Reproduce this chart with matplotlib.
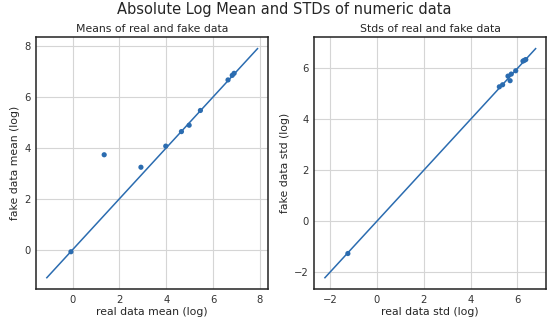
# log means / stds of real vs fake numeric columns

import numpy as np
import matplotlib.pyplot as plt

real_mean = [-0.07, 1.35, 2.92, 3.98, 4.65, 4.98, 5.46, 6.64, 6.82, 6.90]
fake_mean = [-0.08, 3.73, 3.24, 4.07, 4.64, 4.89, 5.47, 6.67, 6.85, 6.93]
mean_line = [-1.1, 7.9]

real_std = [-1.24, 5.23, 5.37, 5.60, 5.74, 5.69, 5.93, 6.24, 6.36, 6.30]
fake_std = [-1.27, 5.28, 5.36, 5.70, 5.78, 5.52, 5.91, 6.29, 6.35, 6.32]
std_line = [-2.22, 6.78]

col = '#2b6cb0'

plt.rcParams['font.family'] = 'DejaVu Sans'
fig, axs = plt.subplots(1, 2, figsize=(5.5, 3.26), dpi=100)
fig.subplots_adjust(left=0.066, right=0.993, top=0.886, bottom=0.113, wspace=0.2)

panels = [
    (axs[0], real_mean, fake_mean, mean_line, 'Means of real and fake data',
     'real data mean (log)', 'fake data mean (log)'),
    (axs[1], real_std, fake_std, std_line, 'Stds of real and fake data',
     'real data std (log)', 'fake data std (log)'),
]

for ax, x, y, line, title, xl, yl in panels:
    ax.set_facecolor('white')
    ax.grid(True, color='#d5d5d5', linewidth=0.8)
    ax.set_axisbelow(True)
    ax.plot(line, line, color=col, linewidth=1.1)
    ax.scatter(x, y, color=col, s=14, zorder=3, edgecolors='none')
    ax.set_title(title, fontsize=7.8, pad=4, color='#262626')
    ax.set_xlabel(xl, fontsize=7.8, labelpad=2, color='#262626')
    ax.set_ylabel(yl, fontsize=7.8, labelpad=3, color='#262626')
    ax.tick_params(labelsize=7.2, length=0, pad=4, colors='#333333')
    for s in ax.spines.values():
        s.set_color('#222222')
        s.set_linewidth(1.1)

axs[0].set_xticks([0, 2, 4, 6, 8])
axs[0].set_yticks([0, 2, 4, 6, 8])
axs[1].set_xticks([-2, 0, 2, 4, 6])
axs[1].set_yticks([-2, 0, 2, 4, 6])

fig.suptitle('Absolute Log Mean and STDs of numeric data', fontsize=10.5,
             x=0.516, y=0.995, color='#262626')

fig.savefig('out.png', dpi=100)
